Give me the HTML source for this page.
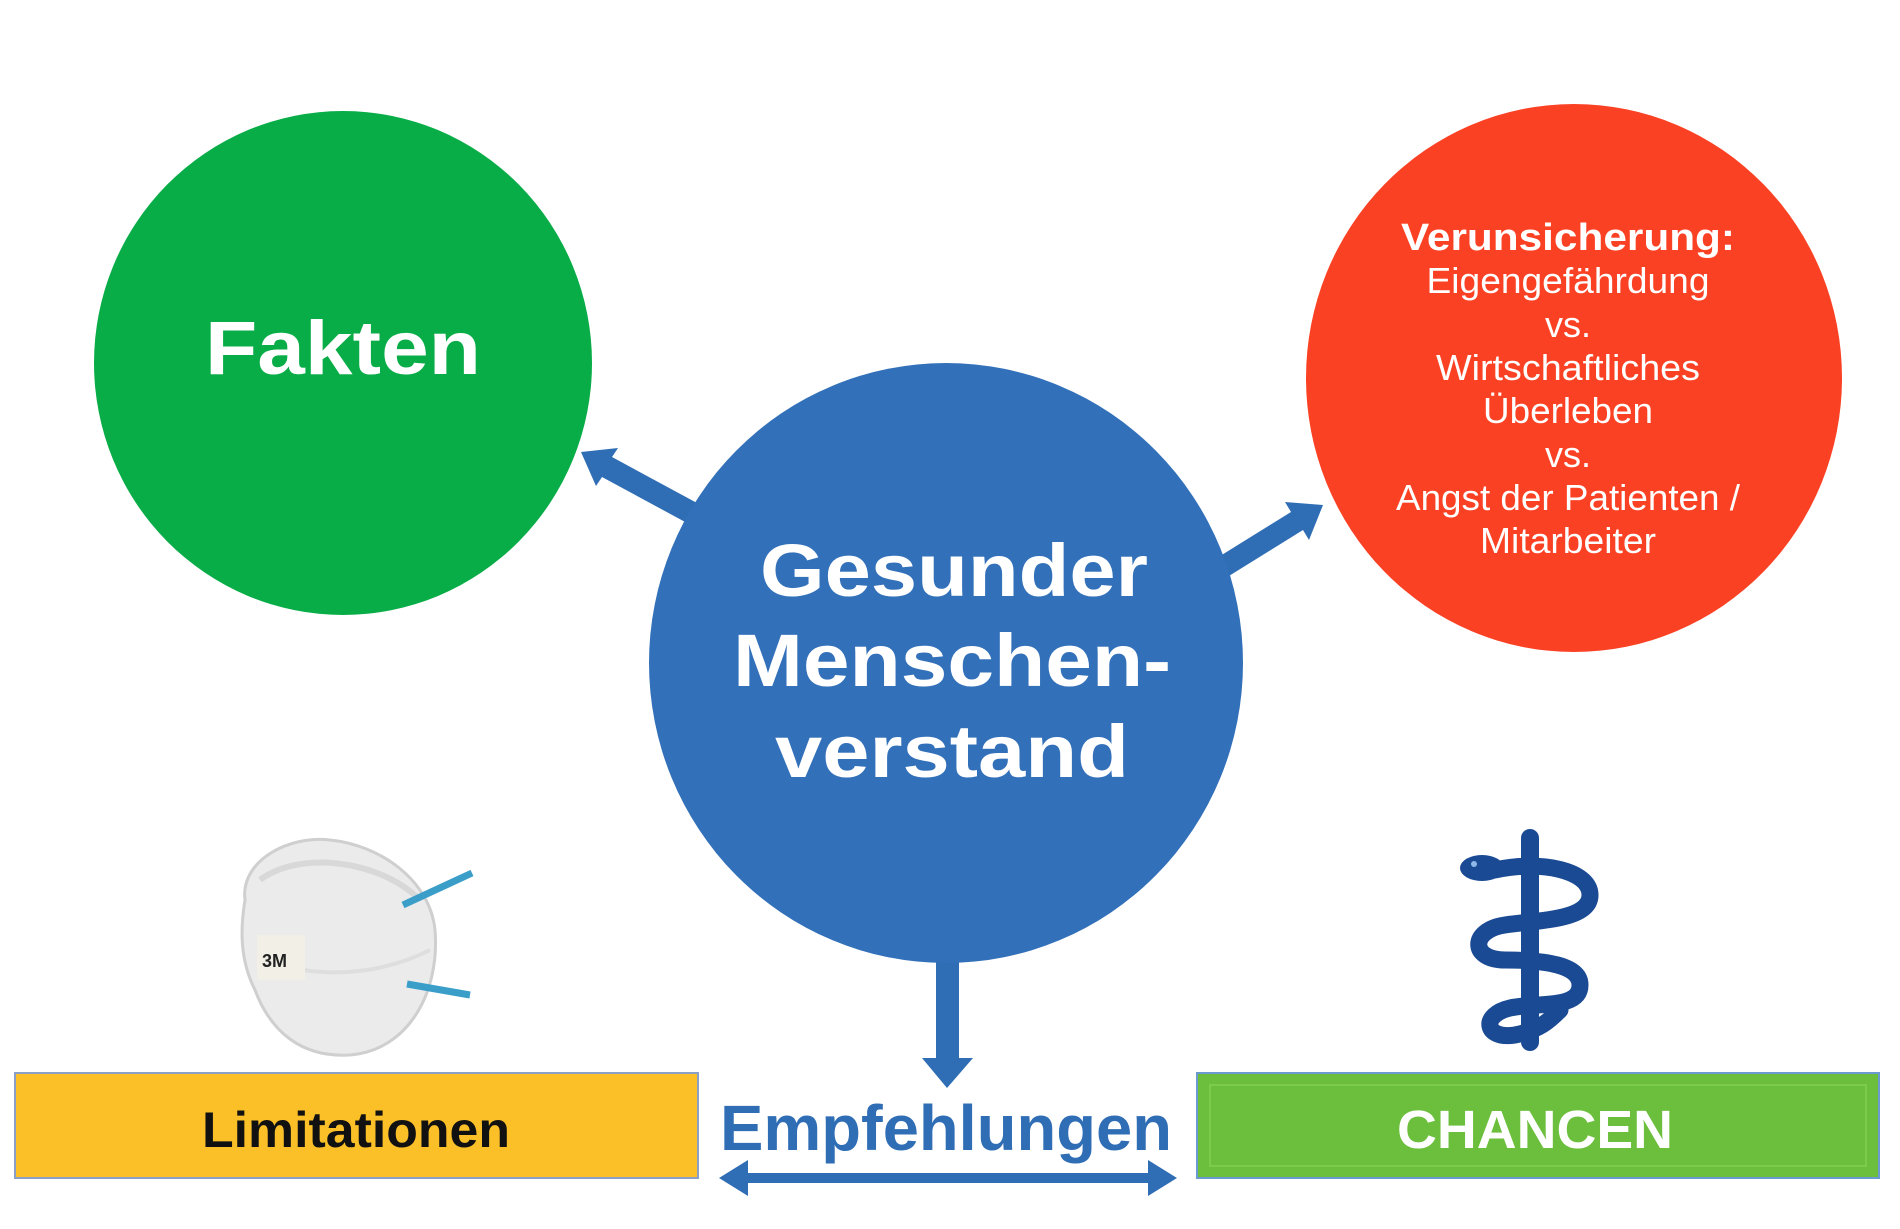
<!DOCTYPE html>
<html><head><meta charset="utf-8"><style>
html,body{margin:0;padding:0;background:#fff;}
svg{display:block;}
text{font-family:"Liberation Sans",Arial,sans-serif;}
</style></head><body>
<svg width="1900" height="1229" viewBox="0 0 1900 1229" xmlns="http://www.w3.org/2000/svg">
<rect width="1900" height="1229" fill="#fff"/>
<!-- green circle -->
<ellipse cx="343" cy="363" rx="249" ry="252" fill="#08ad47"/>
<text x="343" y="374" text-anchor="middle" font-size="76" font-weight="bold" fill="#fff" textLength="276" lengthAdjust="spacingAndGlyphs">Fakten</text>
<!-- red circle -->
<ellipse cx="1574" cy="378" rx="268" ry="274" fill="#fb4124"/>
<g fill="#fff" text-anchor="middle">
<text x="1568" y="250" font-size="38" font-weight="bold" textLength="334" lengthAdjust="spacingAndGlyphs">Verunsicherung:</text>
<text x="1568" y="293" font-size="36" textLength="283" lengthAdjust="spacingAndGlyphs">Eigengefährdung</text>
<text x="1568" y="337" font-size="36">vs.</text>
<text x="1568" y="380" font-size="36" textLength="264" lengthAdjust="spacingAndGlyphs">Wirtschaftliches</text>
<text x="1568" y="423" font-size="36" textLength="170" lengthAdjust="spacingAndGlyphs">Überleben</text>
<text x="1568" y="467" font-size="36">vs.</text>
<text x="1568" y="510" font-size="36" textLength="344" lengthAdjust="spacingAndGlyphs">Angst der Patienten /</text>
<text x="1568" y="553" font-size="36" textLength="176" lengthAdjust="spacingAndGlyphs">Mitarbeiter</text>
</g>
<!-- arrows -->
<g fill="#2f6db5" stroke="none">
<polygon points="697,503 612,457 618,448 581,452 596,486 602,477 687,523"/>
<polygon points="1216,584 1303,530 1309,540 1323,505 1285,502 1291,512 1204,566"/>
<rect x="936" y="950" width="23" height="110"/>
<polygon points="922,1058 973,1058 947,1088"/>
<rect x="740" y="1173" width="416" height="10"/>
<polygon points="719,1178 748,1160 748,1196"/>
<polygon points="1177,1178 1148,1160 1148,1196"/>
</g>
<!-- blue circle -->
<ellipse cx="946" cy="663" rx="297" ry="300" fill="#3270b9"/>
<g fill="#fff" text-anchor="middle" font-weight="bold">
<text x="954" y="596" font-size="74" textLength="388" lengthAdjust="spacingAndGlyphs">Gesunder</text>
<text x="952" y="686" font-size="74" textLength="438" lengthAdjust="spacingAndGlyphs">Menschen-</text>
<text x="952" y="777" font-size="74" textLength="354" lengthAdjust="spacingAndGlyphs">verstand</text>
</g>
<!-- boxes -->
<rect x="15" y="1073" width="683" height="105" fill="#fbbf28" stroke="#8aa0c8" stroke-width="2"/>
<text x="356" y="1147" text-anchor="middle" font-size="50" font-weight="bold" fill="#111" textLength="308" lengthAdjust="spacingAndGlyphs">Limitationen</text>
<rect x="1197" y="1073" width="682" height="105" fill="#6cbf3c" stroke="#6a9ad0" stroke-width="2"/>
<rect x="1210" y="1085" width="656" height="81" fill="none" stroke="#7ccb4c" stroke-width="2"/>
<text x="1535" y="1148" text-anchor="middle" font-size="54" font-weight="bold" fill="#fff" textLength="276" lengthAdjust="spacingAndGlyphs">CHANCEN</text>
<text x="946" y="1150" text-anchor="middle" font-size="64" font-weight="bold" fill="#2f6db5" textLength="452" lengthAdjust="spacingAndGlyphs">Empfehlungen</text>
<!-- mask -->
<g>
<path d="M245,900 C240,860 290,835 330,840 C380,845 430,880 435,930 C440,990 410,1050 350,1055 C300,1058 270,1030 255,990 C240,960 240,930 245,900 Z" fill="#ebebeb" stroke="#cfcfcf" stroke-width="3"/>
<path d="M260,880 C300,850 380,860 420,900" fill="none" stroke="#d8d8d8" stroke-width="6"/>
<path d="M262,960 C320,980 380,975 430,950" fill="none" stroke="#dedede" stroke-width="4"/>
<rect x="257" y="935" width="48" height="45" fill="#f2f0e6"/>
<text x="262" y="967" font-size="18" font-weight="bold" fill="#222">3M</text>
<line x1="403" y1="905" x2="472" y2="873" stroke="#3a9ec9" stroke-width="7"/>
<line x1="407" y1="984" x2="470" y2="995" stroke="#3a9ec9" stroke-width="7"/>
</g>
<!-- staff of aesculapius -->
<g fill="none" stroke="#1a4a93" stroke-linecap="round">
<line x1="1530" y1="838" x2="1530" y2="1042" stroke-width="18"/>
<path d="M1495,870 C1540,860 1590,870 1590,895 C1590,920 1540,920 1505,925 C1470,930 1470,960 1505,960 C1545,960 1580,965 1580,985 C1580,1010 1535,1002 1510,1008 C1480,1015 1485,1040 1515,1035 C1540,1030 1550,1020 1560,1010" stroke-width="17"/>
</g>
<ellipse cx="1482" cy="868" rx="22" ry="13" fill="#1a4a93"/>
<circle cx="1474" cy="864" r="3" fill="#8fb8e8"/>
</svg>
</body></html>
